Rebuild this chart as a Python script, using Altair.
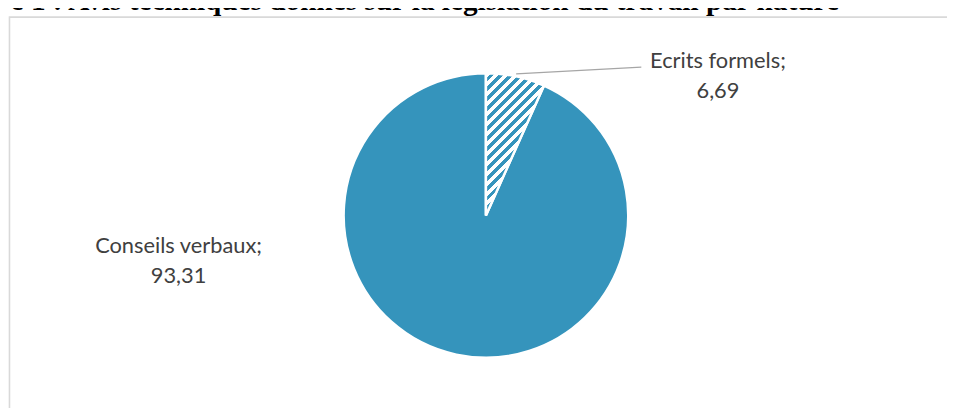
import math
import altair as alt
import pandas as pd

# ---- data ----
categories = ["Ecrits formels", "Conseils verbaux"]
values = [6.69, 93.31]
order_idx = [0, 1]
title_text = "Figure 1 : Avis techniques donnés sur la législation du travail par nature"

labels = [f"{c};\n{str(v).replace('.', ',')}" for c, v in zip(categories, values)]
df = pd.DataFrame({"cat": categories, "val": values, "idx": order_idx, "label": labels})

# ---- styling / geometry ----
W, H = 947, 400
CX, CY, R = 482, 207.5, 143.5
BLUE = "#3594BC"
TEXT = "#404040"
FONT = "Lato"

# hatch (wide upward diagonal) built as a hard-stop linear gradient over the wedge bbox
frac = values[0] / sum(values)
ang = 2 * math.pi * frac
bw = R * math.sin(ang)
bh = R
th = math.radians(45)
S = bw * math.sin(th) + bh * math.cos(th)
k = S / (bw ** 2 * math.sin(th) ** 2 + bh ** 2 * math.cos(th) ** 2)
gx, gy = k * bw * math.sin(th), k * bh * math.cos(th)
period = 7.07
n = S / period
stops = []
i = 0
while i < n + 1:
    a = i / n
    b = (i + 0.5) / n
    c = (i + 1) / n
    stops += [
        alt.GradientStop(color="white", offset=min(a, 1)),
        alt.GradientStop(color="white", offset=min(b, 1)),
        alt.GradientStop(color=BLUE, offset=min(b, 1)),
        alt.GradientStop(color=BLUE, offset=min(c, 1)),
    ]
    i += 1
hatch = alt.LinearGradient(gradient="linear", stops=stops, x1=0, y1=0, x2=gx, y2=gy)

base = alt.Chart(df).encode(
    theta=alt.Theta("val:Q", stack=True),
    order=alt.Order("idx:Q"),
)

pie = base.mark_arc(radius=R, fill=BLUE, stroke="white", strokeWidth=2.5).encode(
    x=alt.value(CX), y=alt.value(CY)
)
pie_hatch = base.mark_arc(radius=R, fill=hatch, stroke="white", strokeWidth=2.5).encode(
    x=alt.value(CX), y=alt.value(CY),
    opacity=alt.condition(alt.datum.cat == categories[0], alt.value(1), alt.value(0)),
)

# leader line from slice mid-angle to the label
mid = math.pi * frac
lx1 = CX + 146 * math.sin(mid)
ly1 = CY - 146 * math.cos(mid)
one = alt.Data(values=[{"k": 1}])
leader = alt.Chart(one).mark_rule(color="#A6A6A6", strokeWidth=1.3).encode(
    x=alt.value(lx1), y=alt.value(ly1), x2=alt.value(638.7), y2=alt.value(58)
)

lab1 = alt.Chart(df).transform_filter(alt.datum.cat == categories[0]).mark_text(
    font=FONT, fontSize=22, color=TEXT, align="center", baseline="alphabetic",
    lineBreak="\n", lineHeight=30, x=716, y=59.3
).encode(text="label:N")
lab2 = alt.Chart(df).transform_filter(alt.datum.cat == categories[1]).mark_text(
    font=FONT, fontSize=22, color=TEXT, align="center", baseline="alphabetic",
    lineBreak="\n", lineHeight=30, x=172, y=245.3
).encode(text="label:N")

border = alt.Chart(one).mark_rect(fillOpacity=0, stroke="#D9D9D9", strokeWidth=1.6).encode(
    x=alt.value(1.5), y=alt.value(7.5), x2=alt.value(1200), y2=alt.value(700)
)

title = alt.Chart(one).mark_text(
    text=title_text, font="Liberation Serif", fontWeight="bold", fontSize=29.5,
    color="black", align="right", baseline="alphabetic", x=838, y=0
).encode(opacity=alt.value(1))

chart = alt.layer(border, title, pie, pie_hatch, leader, lab1, lab2).properties(
    width=W, height=H,
    autosize=alt.AutoSizeParams(type="none"),
    padding=0,
).configure_view(stroke=None)

chart.save("out.html", embed_options={"renderer": "svg", "actions": False})
